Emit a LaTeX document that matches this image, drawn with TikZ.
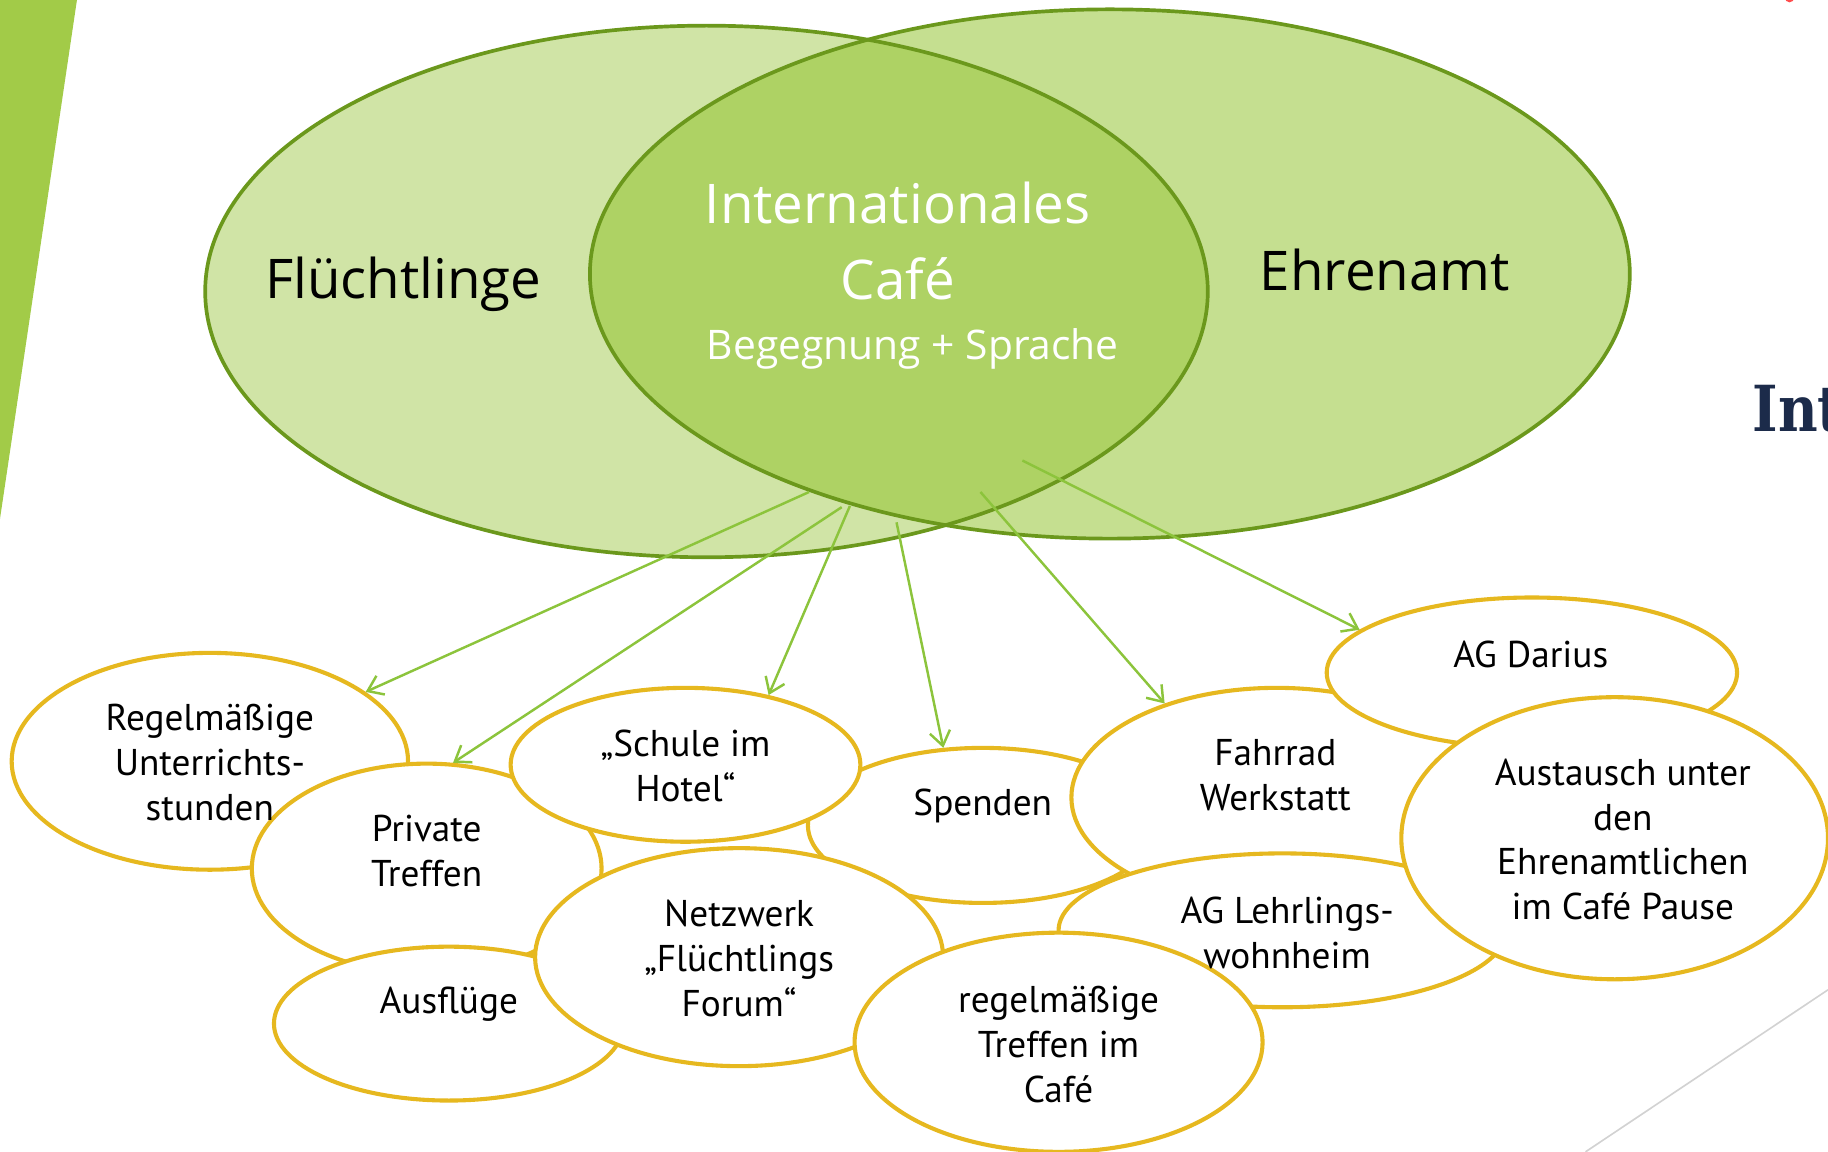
\documentclass[tikz,border=0pt]{standalone}
\usepackage{fontspec}
\setmainfont{PT Sans}
\newfontfamily\vennfont{Open Sans}
\newfontfamily\slabfont[FakeStretch=0.86]{DejaVu Serif}
\usetikzlibrary{arrows.meta,shapes.geometric,calc}
\definecolor{cafeBar}{HTML}{A2CB48}
\definecolor{cafeLeft}{HTML}{D0E4A6}
\definecolor{cafeRight}{HTML}{C5DF90}
\definecolor{cafeMid}{HTML}{AED264}
\definecolor{cafeRim}{HTML}{6B981C}
\definecolor{cafeGreen}{HTML}{8CC43C}
\definecolor{cafeYellow}{HTML}{E6B81F}
\definecolor{cafeNavy}{HTML}{1C2B4A}
\definecolor{cafeGray}{HTML}{D2D2D2}
\tikzset{
  cafeRimLine/.style={draw=cafeRim, line width=1.8pt},
  cafeBubble/.style 2 args={
    ellipse,
    draw=cafeYellow,
    fill=white,
    line width=2pt,
    inner sep=0pt,
    minimum width=#1*0.02cm,
    minimum height=#2*0.02cm
  },
  cafeText/.style={
    align=center,
    font=\fontsize{18.2}{21.9}\selectfont,
    inner sep=0pt
  },
  cafeBig/.style={
    font=\vennfont\fontsize{26.7}{37}\selectfont,
    inner sep=0pt,
    align=center
  },
  cafeArrow/.style={-{Straight Barb[length=7pt,width=10pt]}, draw=cafeGreen, line width=1.2pt}
}

\begin{document}
\begin{tikzpicture}[x=0.02cm, y=-0.02cm]
  \useasboundingbox (0,0) rectangle (1568,988);

  % slide decoration
  \fill[cafeBar] (0,0) -- (66,0) -- (0,445) -- cycle;
  \draw[cafeGray, line width=0.8pt] (1360,988) -- (1568,849);
  \fill[red!70] (1535,-2) circle[radius=4];
  \node[font=\slabfont\bfseries\fontsize{31}{31}\selectfont, text=cafeNavy, anchor=base west, inner sep=0pt]
    (intTitle) at (1503,370) {Int};

  % venn of the two groups
  \fill[cafeLeft] (606,250) ellipse[x radius=430, y radius=228];
  \fill[cafeRight] (952,235) ellipse[x radius=446, y radius=227];
  \begin{scope}
    \clip (606,250) ellipse[x radius=430, y radius=228];
    \fill[cafeMid] (952,235) ellipse[x radius=446, y radius=227];
  \end{scope}
  \draw[cafeRimLine] (606,250) ellipse[x radius=430, y radius=228];
  \draw[cafeRimLine] (952,235) ellipse[x radius=446, y radius=227];

  \node[cafeBig] (fluechtlinge) at (346,244) {Flüchtlinge};
  \node[cafeBig] (ehrenamt) at (1188,232) {Ehrenamt};
  \node[cafeBig, text=white] (cafeTitle) at (770,207) {Internationales\\Café};
  \node[font=\vennfont\fontsize{19.9}{24}\selectfont, text=white, inner sep=0pt]
    (cafeSub) at (783,299) {Begegnung + Sprache};

  % activities
  \node[cafeBubble={340}{186}] (regel) at (180,653) {};
  \node[cafeBubble={300}{180}] (private) at (366,745) {};
  \node[cafeBubble={300}{133}] (spenden) at (843,708) {};
  \node[cafeBubble={300}{132}] (schule) at (588,656) {};
  \node[cafeBubble={300}{132}] (ausfluege) at (385,878) {};
  \node[cafeBubble={350}{187}] (netzwerk) at (634,821) {};
  \node[cafeBubble={352}{188}] (fahrrad) at (1095,684) {};
  \node[cafeBubble={352}{129}] (darius) at (1314,577) {};
  \node[cafeBubble={384}{132}] (lehrling) at (1100,798) {};
  \node[cafeBubble={350}{188}] (treffen) at (908,894) {};
  \node[cafeBubble={366}{242}] (austausch) at (1385,719) {};

  \node[cafeText] (regelText) at (180,654) {Regelmäßige\\Unterrichts-\\stunden};
  \node[cafeText] (privateText) at (366,730) {Private\\Treffen};
  \node[cafeText] (spendenText) at (843,691) {Spenden};
  \node[cafeText] (schuleText) at (588,657) {„Schule im\\Hotel“};
  \node[cafeText] (ausfluegeText) at (385,861) {Ausflüge};
  \node[cafeText] (netzwerkText) at (634,822) {Netzwerk\\„Flüchtlings\\Forum“};
  \node[cafeText] (fahrradText) at (1094,665) {Fahrrad\\Werkstatt};
  \node[cafeText] (dariusText) at (1313,561) {AG Darius};
  \node[cafeText] (lehrlingText) at (1104,800) {AG Lehrlings-\\wohnheim};
  \node[cafeText] (treffenText) at (908,896) {regelmäßige\\Treffen im\\Café};
  \node[cafeText] (austauschText) at (1392,720) {Austausch unter\\den\\Ehrenamtlichen\\im Café Pause};

  % arrows out of the café
  \coordinate (outRegel) at (694,422);
  \coordinate (outPrivate) at (722,435);
  \coordinate (outSchule) at (729,434);
  \coordinate (outSpenden) at (769,448);
  \coordinate (outFahrrad) at (841,422);
  \coordinate (outDarius) at (877,395);
  \foreach \a/\b in {outRegel/regel.24,outPrivate/private.76,outSchule/schule.40,outSpenden/spenden.117,outFahrrad/fahrrad.140,outDarius/darius.166}
    \draw[cafeArrow] (\a) -- (\b);
\end{tikzpicture}
\end{document}
